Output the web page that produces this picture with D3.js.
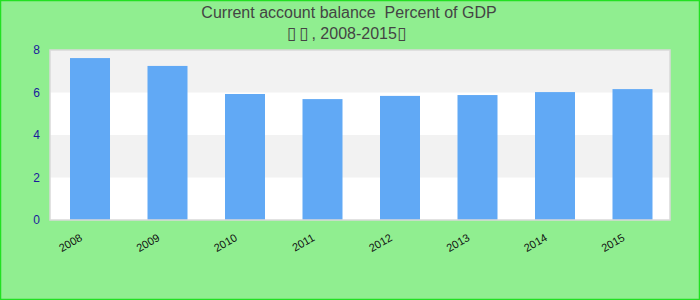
<!DOCTYPE html>
<html>
<head>
<meta charset="utf-8">
<script src="https://cdn.jsdelivr.net/npm/d3@7"></script>
<style>
  html, body { margin: 0; padding: 0; background: #90ee90; }
  svg { display: block; }
  text { font-family: "Liberation Sans", Arial, sans-serif; }
</style>
</head>
<body>
<svg id="chart" width="700" height="300"></svg>
<script>
const titleText = "Current account balance  Percent of GDP";
const subtitleParts = ["\u25AF", "\u25AF", ", 2008-2015", "\u25AF"];
const years = ["2008", "2009", "2010", "2011", "2012", "2013", "2014", "2015"];
const values = [7.62, 7.25, 5.93, 5.69, 5.84, 5.88, 6.02, 6.16];
const yTicks = [0, 2, 4, 6, 8];

const W = 700, H = 300;
const plot = { left: 50, top: 50, right: 670, bottom: 220 };

const svg = d3.select("#chart");

svg.append("rect").attr("x", 0.5).attr("y", 0.5).attr("width", W - 1).attr("height", H - 1)
  .attr("fill", "#90ee90").attr("stroke", "#22e022").attr("stroke-width", 1.5);

const x = d3.scaleBand().domain(years).range([plot.left + 1.25, plot.right + 1.25])
  .paddingInner(0.4839).paddingOuter(0.242);
const y = d3.scaleLinear().domain([0, 8]).range([plot.bottom, plot.top]);

// plot background with alternating bands
svg.append("rect").attr("x", plot.left).attr("y", plot.top)
  .attr("width", plot.right - plot.left).attr("height", plot.bottom - plot.top)
  .attr("fill", "#ffffff");
const bands = d3.pairs(yTicks).filter((d, i) => i % 2 === 1);
svg.selectAll("rect.band").data(bands).enter().append("rect").attr("class", "band")
  .attr("x", plot.left).attr("width", plot.right - plot.left)
  .attr("y", d => y(d[1])).attr("height", d => y(d[0]) - y(d[1]))
  .attr("fill", "#f2f2f2");

// bars
svg.selectAll("rect.bar").data(values).enter().append("rect").attr("class", "bar")
  .attr("x", (d, i) => x(years[i])).attr("width", x.bandwidth())
  .attr("y", d => y(d)).attr("height", d => y(0) - y(d))
  .attr("fill", "#61a9f5");

// plot border
svg.append("rect").attr("x", plot.left).attr("y", plot.top)
  .attr("width", plot.right - plot.left).attr("height", plot.bottom - plot.top)
  .attr("fill", "none").attr("stroke", "#d9d9d9").attr("stroke-width", 1.5);

// y axis
const yAxis = d3.axisLeft(y).tickValues(yTicks).tickSize(0).tickPadding(10).tickFormat(d3.format("d"));
const gy = svg.append("g").attr("transform", `translate(${plot.left},0)`).call(yAxis);
gy.select(".domain").remove();
gy.selectAll("text").attr("fill", "#1a1a9c").attr("font-size", 12)
  .style("font-family", "'Liberation Sans', Arial, sans-serif");

// x axis
const xAxis = d3.axisBottom(x).tickSize(0).tickPadding(0);
const gx = svg.append("g").attr("transform", `translate(0,${plot.bottom})`).call(xAxis);
gx.select(".domain").remove();
gx.selectAll("text")
  .attr("fill", "#111").attr("font-size", 11)
  .style("font-family", "'Liberation Sans', Arial, sans-serif")
  .attr("text-anchor", "end")
  .attr("dy", 0).attr("y", 0)
  .attr("transform", "translate(-7,20) rotate(-30)");

// titles
svg.append("text").attr("x", 349).attr("y", 18).attr("text-anchor", "middle")
  .attr("font-size", 16).attr("fill", "#444").style("white-space", "pre").text(titleText);
const sub = svg.append("text").attr("x", 348).attr("y", 39).attr("text-anchor", "middle")
  .attr("font-size", 16).attr("fill", "#444").style("white-space", "pre");
sub.selectAll("tspan").data(subtitleParts).enter().append("tspan")
  .style("font-family", d => d === "\u25AF" ? "'DejaVu Sans', sans-serif" : "'Liberation Sans', Arial, sans-serif")
  .attr("font-size", d => d === "\u25AF" ? 17 : 16)
  .style("letter-spacing", d => d === "\u25AF" ? "3px" : "0px")
  .text(d => d);
</script>
</body>
</html>
